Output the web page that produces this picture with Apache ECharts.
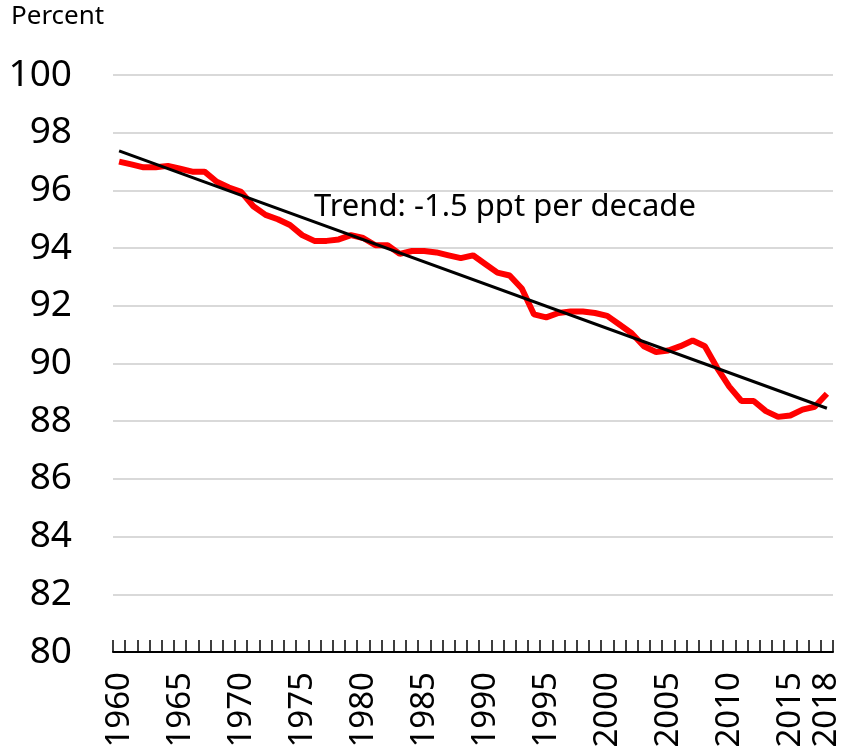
<!DOCTYPE html>
<html lang="en">
<head>
    <meta charset="UTF-8">
    <title>Percent trend</title>
    <script src="https://cdn.jsdelivr.net/npm/echarts@6/dist/echarts.min.js"></script>
    <style>
        html, body { margin: 0; padding: 0; background: #fff; }
        #main { width: 842px; height: 751px; }
    </style>
</head>
<body>
<div id="main"></div>
<script>
    // years 1960..2018
    var years = [];
    for (var y = 1960; y <= 2018; y++) { years.push(String(y)); }

    // values
    var share = [
        97.0, 96.9, 96.8, 96.8, 96.85, 96.75, 96.65, 96.65, 96.3, 96.1,
        95.95, 95.45, 95.15, 95.0, 94.8, 94.45, 94.25, 94.25, 94.3, 94.45,
        94.35, 94.1, 94.1, 93.8, 93.9, 93.9, 93.85, 93.75, 93.65, 93.75,
        93.45, 93.15, 93.05, 92.6, 91.7, 91.6, 91.75, 91.8, 91.8, 91.75,
        91.65, 91.35, 91.05, 90.6, 90.4, 90.45, 90.6, 90.8, 90.6, 89.85,
        89.2, 88.7, 88.7, 88.35, 88.15, 88.2, 88.4, 88.5, 88.95
    ];

    // trend end points
    var trendYears = ['1960', '2018'];
    var trendValues = [97.37, 88.45];

    var yTicks = { min: 80, max: 100, step: 2 };
    var labelEvery = 5;

    var trendData = trendYears.map(function (yr, i) { return [yr, trendValues[i]]; });

    var font = '"Noto Sans", "Open Sans", sans-serif';

    var option = {
        animation: false,
        backgroundColor: '#fff',
        grid: { left: 113, right: 9, top: 75, bottom: 99, outerBoundsMode: 'none', containLabel: false },
        xAxis: {
            type: 'category',
            data: years,
            boundaryGap: true,
            axisLine: { show: true, lineStyle: { color: '#000', width: 2 } },
            axisTick: {
                show: true,
                inside: true,
                length: 12,
                interval: 0,
                lineStyle: { color: '#000', width: 1.5 }
            },
            axisLabel: {
                rotate: 90,
                margin: 20,
                color: '#000',
                fontSize: 33,
                fontFamily: font,
                interval: function (index) {
                    return index % labelEvery === 0 || index === years.length - 1;
                }
            },
            splitLine: { show: false }
        },
        yAxis: {
            type: 'value',
            min: yTicks.min,
            max: yTicks.max,
            interval: yTicks.step,
            axisLine: { show: false },
            axisTick: { show: false },
            axisLabel: {
                color: '#000',
                fontSize: 37,
                fontFamily: font,
                margin: 41
            },
            splitLine: { lineStyle: { color: '#d9d9d9', width: 2 } }
        },
        graphic: [
            {
                type: 'text',
                left: 11,
                top: 4,
                style: { text: 'Percent', fill: '#000', font: '26px ' + font }
            },
            {
                type: 'text',
                left: 314,
                top: 192,
                style: { text: 'Trend: -1.5 ppt per decade', fill: '#000', font: '31px ' + font }
            }
        ],
        series: [
            {
                name: 'Share',
                type: 'line',
                data: share,
                showSymbol: false,
                lineStyle: { color: '#ff0000', width: 6 },
                z: 2
            },
            {
                name: 'Trend',
                type: 'line',
                data: trendData,
                showSymbol: false,
                lineStyle: { color: '#000', width: 3 },
                z: 3
            }
        ]
    };

    var myChart = echarts.init(document.getElementById('main'));
    myChart.setOption(option);
</script>
</body>
</html>
